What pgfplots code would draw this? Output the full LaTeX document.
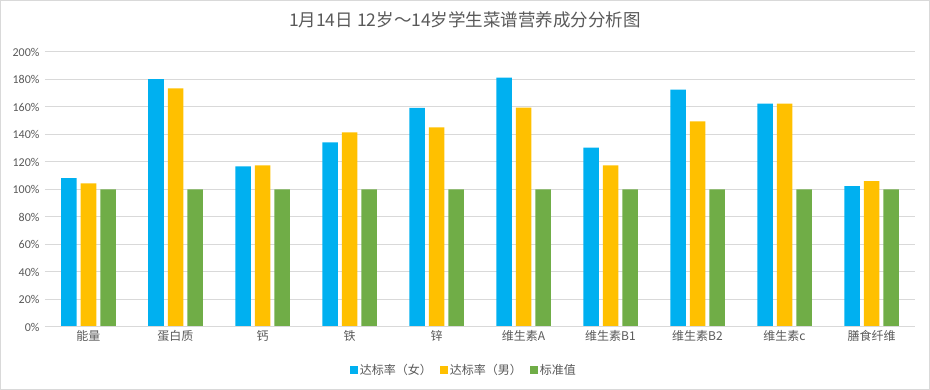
\documentclass[border=0pt]{standalone}
\usepackage{pgfplots}
\pgfplotsset{compat=1.18}
\usepackage{fontspec}
\setmainfont{Carlito}
\newfontfamily\cjk{Noto Sans CJK SC}
\definecolor{cblue}{HTML}{00B0F0}
\definecolor{cgold}{HTML}{FFC000}
\definecolor{cgreen}{HTML}{70AD47}
\definecolor{ctext}{HTML}{595959}
\definecolor{cgrid}{HTML}{D9D9D9}
\begin{document}
\begin{tikzpicture}[x=1pt,y=1pt]
\path (0,0) rectangle (930,390);
\draw[cgrid] (0.5,0.5) rectangle (929.5,389.5);
\node[text=ctext,font=\cjk\fontsize{17.5}{20}\selectfont] at (465,370) {1月14日 12岁～14岁学生菜谱营养成分分析图};
\begin{axis}[
  at={(45pt,63pt)}, anchor=south west,
  scale only axis, width=870pt, height=275pt,
  ymin=0, ymax=200, xmin=-0.5, xmax=9.5,
  ybar=4pt, bar width=15.5pt,
  axis line style={draw=none},
  ytick={0,20,...,200},
  yticklabels={0\%,20\%,40\%,60\%,80\%,100\%,120\%,140\%,160\%,180\%,200\%},
  xtick={0,...,9},
  xticklabels={能量,蛋白质,钙,铁,锌,维生素A,维生素B1,维生素B2,维生素c,膳食纤维},
  xticklabel style={font=\cjk\fontsize{12}{14}\selectfont, text=ctext},
  yticklabel style={font=\fontsize{12}{14}\selectfont, text=ctext, xshift=-2pt},
  major tick length=0pt,
  ymajorgrids, grid style={cgrid, line width=1pt},
  legend style={at={(0.4816,-0.156)}, anchor=center, draw=none, legend columns=3,
    font=\cjk\fontsize{12}{14}\selectfont, text=ctext,
    /tikz/every even column/.append style={column sep=6pt}},
  legend image code/.code={\fill[#1] (0pt,-4pt) rectangle (8pt,4pt);},
  after end axis/.code={\draw[cgrid, line width=1pt] (rel axis cs:0,0) -- (rel axis cs:1,0);},
]
\addplot[fill=cblue, draw=none] coordinates {(0,108.2) (1,180.2) (2,116.8) (3,134.2) (4,159.3) (5,181.3) (6,130.5) (7,172.6) (8,162.5) (9,102.4)};
\addplot[fill=cgold, draw=none] coordinates {(0,104.5) (1,173.5) (2,117.5) (3,141.6) (4,145.2) (5,159.5) (6,117.5) (7,149.5) (8,162.5) (9,106.0)};
\addplot[fill=cgreen, draw=none] coordinates {(0,100) (1,100) (2,100) (3,100) (4,100) (5,100) (6,100) (7,100) (8,100) (9,100)};
\legend{达标率（女）,达标率（男）,标准值}
\end{axis}
\end{tikzpicture}
\end{document}
